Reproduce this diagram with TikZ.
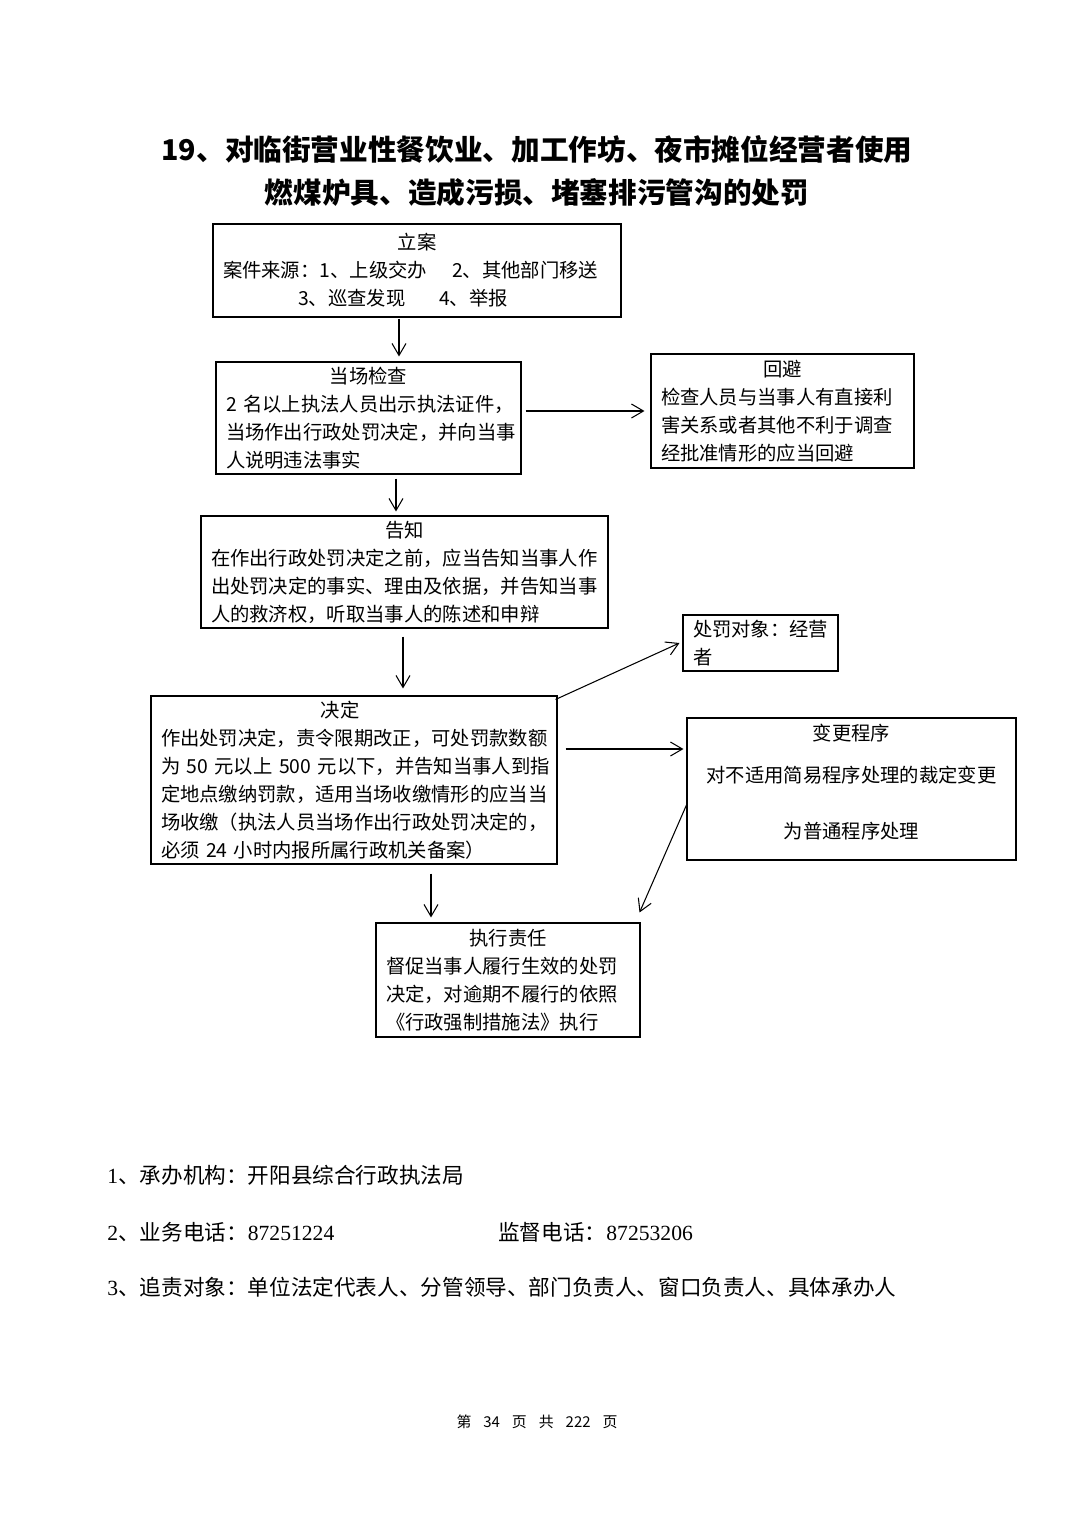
\documentclass[tikz,border=0pt]{standalone}
\usepackage{fontspec}
\setmainfont{Noto Sans CJK SC}
\newfontfamily\latinserif{Liberation Serif}
\usetikzlibrary{arrows.meta,positioning}

\newdimen\pxu \pxu=0.2mm
\newcommand\boxfont{\fontsize{11pt}{5.6mm}\selectfont}
\newcommand\titlefont{\fontsize{16.3pt}{8.6mm}\selectfont\bfseries}
\newcommand\footfont{\fontsize{12.3pt}{14pt}\selectfont}
\newcommand\pagefont{\fontsize{8.5pt}{10pt}\selectfont}
\newcommand\ctr[1]{\makebox[\linewidth]{#1}}

\begin{document}
\begin{tikzpicture}[x=0.2mm, y=-0.2mm,
    box/.style={draw, line width=0.6pt, inner xsep=10\pxu, inner ysep=0pt, align=left, font=\boxfont},
    arr/.style={-{Straight Barb[length=2.4mm,width=2.8mm]}, line width=0.6pt},
    txt/.style={font=\footfont, anchor=west, inner sep=0pt}
]
\fill[white] (0,0) rectangle (1074,1520);
\useasboundingbox (0,0) rectangle (1074,1520);

\node[font=\titlefont, align=center] (title) at (537,171.5) {19、对临街营业性餐饮业、加工作坊、夜市摊位经营者使用\\ 燃煤炉具、造成污损、堵塞排污管沟的处罚};

\node[box, text width=388\pxu, minimum height=93\pxu] (lian) at (417,270.5) {\ctr{立案}\\ 案件来源：1、上级交办\hspace{1.3em}2、其他部门移送\\ \hspace*{75\pxu}3、巡查发现\hspace{1.75em}4、举报};
\node[box, text width=285\pxu, minimum height=112\pxu] (jiancha) at (368.5,418) {\ctr{当场检查}\\ 2~名以上执法人员出示执法证件，\\ 当场作出行政处罚决定，并向当事\\ 人说明违法事实};
\node[box, text width=243\pxu, minimum height=114\pxu] (huibi) at (782.5,411) {\ctr{回避}\\ 检查人员与当事人有直接利\\ 害关系或者其他不利于调查\\ 经批准情形的应当回避};
\node[box, text width=387\pxu, minimum height=112\pxu] (gaozhi) at (404.5,572) {\ctr{告知}\\ 在作出行政处罚决定之前，应当告知当事人作\\ 出处罚决定的事实、理由及依据，并告知当事\\ 人的救济权，听取当事人的陈述和申辩};
\node[box, text width=135\pxu, minimum height=56\pxu] (duixiang) at (760.5,643) {处罚对象：经营\\ 者};
\node[box, text width=386\pxu, minimum height=168\pxu] (jueding) at (354,780) {\ctr{决定\hspace{28\pxu}}\\ 作出处罚决定，责令限期改正，可处罚款数额\\ 为~50~元以上~500~元以下，并告知当事人到指\\ 定地点缴纳罚款，适用当场收缴情形的应当当\\ 场收缴（执法人员当场作出行政处罚决定的，\\ 必须~24~小时内报所属行政机关备案）};
\node[box, align=center, text width=309\pxu, minimum height=142\pxu] (biangeng) at (851.5,789) {变更程序\\[14\pxu] 对不适用简易程序处理的裁定变更\\[28\pxu] 为普通程序处理\rule[-16\pxu]{0pt}{0pt}};
\node[box, text width=244\pxu, minimum height=114\pxu] (zhixing) at (508,980) {\ctr{执行责任}\\ 督促当事人履行生效的处罚\\ 决定，对逾期不履行的依照\\ 《行政强制措施法》执行};

\draw[arr, shorten <=1\pxu, shorten >=5\pxu] ([xshift=-18\pxu]lian.south) -- ([xshift=-18\pxu]lian.south |- jiancha.north);
\draw[arr, shorten <=4\pxu, shorten >=6\pxu] ([yshift=7\pxu]jiancha.east) -- ([yshift=7\pxu]jiancha.east -| huibi.west);
\draw[arr, shorten <=4\pxu, shorten >=4\pxu] ([xshift=27.5\pxu]jiancha.south) -- ([xshift=27.5\pxu]jiancha.south |- gaozhi.north);
\draw[arr, shorten <=8\pxu, shorten >=7\pxu] ([xshift=-1.5\pxu]gaozhi.south) -- ([xshift=-1.5\pxu]gaozhi.south |- jueding.north);
\draw[arr] ([shift={(-2,4)}]jueding.north east) -- ([xshift=-3\pxu]duixiang.west);
\draw[arr, shorten <=8\pxu, shorten >=3\pxu] ([yshift=31\pxu]jueding.east) -- ([yshift=31\pxu]jueding.east -| biangeng.west);
\draw[arr] ([yshift=-16\pxu]biangeng.west) -- ([shift={(-1,-10)}]zhixing.north east);
\draw[arr, shorten <=9\pxu, shorten >=5\pxu] ([xshift=77\pxu]jueding.south) -- ([xshift=77\pxu]jueding.south |- zhixing.north);

% notes under the chart
\node[txt] (org) at (107,1175) {{\latinserif 1}、承办机构：开阳县综合行政执法局};
\node[txt] (tel) at (107,1232) {{\latinserif 2}、业务电话：{\latinserif 87251224}};
\node[txt] (sup) at (498,1232) {监督电话：{\latinserif 87253206}};
\node[txt] (duty) at (107,1287) {{\latinserif 3}、追责对象：单位法定代表人、分管领导、部门负责人、窗口负责人、具体承办人};
\node[font=\pagefont, inner sep=0pt] (pageno) at (537,1422) {第\hspace{0.8em}34\hspace{0.8em}页\hspace{0.8em}共\hspace{0.8em}222\hspace{0.8em}页};
\end{tikzpicture}
\end{document}
